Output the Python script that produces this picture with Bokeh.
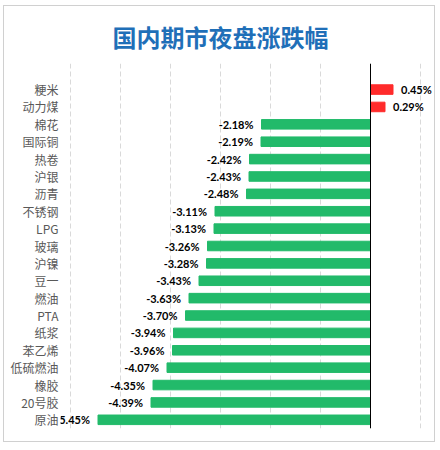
from bokeh.plotting import figure
from bokeh.models import Range1d, FixedTicker, ColumnDataSource, Span, Title
from bokeh.core.properties import value
from bokeh.embed import file_html
from bokeh.resources import INLINE

# data, top to bottom as in the chart
categories = ["粳米", "动力煤", "棉花", "国际铜", "热卷", "沪银", "沥青", "不锈钢", "LPG", "玻璃",
              "沪镍", "豆一", "燃油", "PTA", "纸浆", "苯乙烯", "低硫燃油", "橡胶", "20号胶", "原油"]
changes = [0.45, 0.29, -2.18, -2.19, -2.42, -2.43, -2.48, -3.11, -3.13, -3.26,
           -3.28, -3.43, -3.63, -3.70, -3.94, -3.96, -4.07, -4.35, -4.39, -5.45]
grid_ticks = [-6, -5, -4, -3, -2, -1, 0, 1]

n = len(categories)
ypos = [n - 1 - i for i in range(n)]
labels = [f"{v:.2f}%" for v in changes]
colors = ["#FF2B2B" if v > 0 else "#22BA6A" for v in changes]

src = ColumnDataSource(dict(y=ypos, v=changes, c=colors, lab=labels))
pos = ColumnDataSource(dict(y=[y for y, v in zip(ypos, changes) if v > 0],
                            v=[v for v in changes if v > 0],
                            lab=[l for l, v in zip(labels, changes) if v > 0]))
neg = ColumnDataSource(dict(y=[y for y, v in zip(ypos, changes) if v <= 0],
                            v=[v for v in changes if v <= 0],
                            lab=[l for l, v in zip(labels, changes) if v <= 0]))

p = figure(width=432, height=437, output_backend="svg", toolbar_location=None,
           x_range=Range1d(-6.2, 1.3), y_range=Range1d(-0.5, n + 0.5),
           min_border_left=56, min_border_right=1, min_border_top=56, min_border_bottom=15)
p.background_fill_color = "white"
p.border_fill_color = "white"
p.outline_line_color = None

t = Title(text="国内期市夜盘涨跌幅", text_font="Noto Sans CJK SC", text_font_size="24px",
          text_font_style="bold", text_color="#1F6FB8", align="left", offset=52, standoff=20,
          text_line_height=0.8)
p.add_layout(t, "above")

p.hbar(y="y", right="v", left=0, height=0.55, color="c", source=src)
p.text(x="v", y="y", text="lab", source=neg, x_offset=-8, text_align="right", text_baseline="middle",
       text_font=value("Lato"), text_font_size="11px", text_font_style="bold", text_color="black")
p.text(x="v", y="y", text="lab", source=pos, x_offset=8, text_align="left", text_baseline="middle",
       text_font=value("Lato"), text_font_size="11px", text_font_style="bold", text_color="black")

p.add_layout(Span(location=0, dimension="height", line_color="black", line_width=1))

p.xaxis.visible = False
p.xgrid.ticker = FixedTicker(ticks=grid_ticks)
p.xgrid.grid_line_color = "#D9D9D9"
p.xgrid.grid_line_dash = "5 3"
p.ygrid.grid_line_color = None

p.yaxis.ticker = FixedTicker(ticks=ypos)
p.yaxis.major_label_overrides = {y: c for y, c in zip(ypos, categories)}
p.yaxis.axis_line_color = None
p.yaxis.major_tick_line_color = None
p.yaxis.minor_tick_line_color = None
p.yaxis.major_tick_out = 0
p.yaxis.major_label_standoff = 2
p.yaxis.major_label_text_font = "Noto Sans CJK SC"
p.yaxis.major_label_text_font_size = "12px"
p.yaxis.major_label_text_color = "#595959"
p.styles = {"border": "1px solid #D0D0D0", "margin-left": "3px", "margin-top": "5px"}

open("out.html", "w").write(file_html(p, INLINE))
